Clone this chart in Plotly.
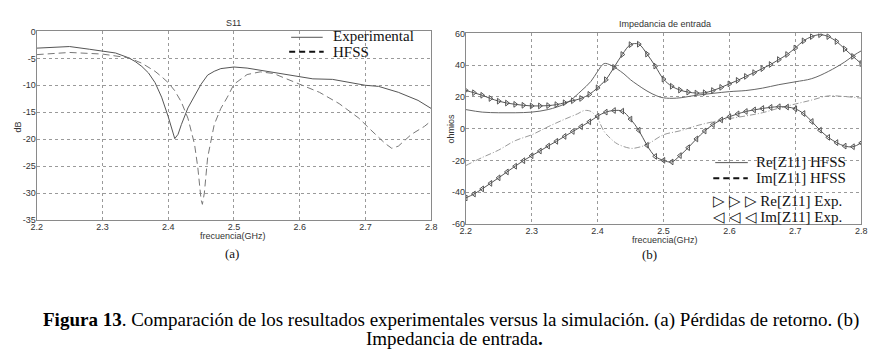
import plotly.graph_objects as go

# ---------------- S11 data (GHz, dB) ----------------
s11_exp_f = [2.2, 2.25, 2.28, 2.3, 2.32, 2.34, 2.35, 2.36, 2.37, 2.38, 2.39, 2.4, 2.405, 2.41,
             2.415, 2.42, 2.43, 2.44, 2.45, 2.46, 2.47, 2.48, 2.5, 2.52, 2.55, 2.6, 2.62, 2.65,
             2.68, 2.7, 2.72, 2.75, 2.78, 2.8]
s11_exp_db = [-3.1, -2.8, -3.3, -3.6, -4.0, -4.9, -5.6, -6.5, -7.7, -9.5, -12.2, -15.8, -17.9, -19.9,
              -19.1, -17.3, -14.2, -11.9, -9.8, -8.1, -7.4, -6.9, -6.6, -6.8, -7.4, -8.3, -8.8, -8.9,
              -9.5, -10.0, -10.2, -11.3, -12.8, -14.3]

s11_hfss_f = [2.2, 2.25, 2.3, 2.32, 2.34, 2.36, 2.38, 2.39, 2.4, 2.41, 2.42, 2.43, 2.44, 2.445,
              2.45, 2.452, 2.455, 2.46, 2.47, 2.48, 2.49, 2.5, 2.52, 2.54, 2.56, 2.58, 2.6, 2.63,
              2.66, 2.69, 2.71, 2.73, 2.74, 2.75, 2.77, 2.79, 2.8]
s11_hfss_db = [-4.3, -3.9, -4.2, -4.5, -4.9, -5.9, -7.4, -8.4, -9.5, -11.0, -13.1, -16.1, -20.9, -25.2,
               -31.2, -32.1, -30.0, -23.4, -17.3, -14.3, -12.2, -9.8, -8.0, -7.5, -7.8, -8.8, -9.8, -11.3,
               -13.4, -16.1, -18.5, -20.8, -21.7, -21.3, -19.1, -17.6, -16.6]

# ---------------- Impedance data (GHz, ohm) ----------------
re_hfss_f = [2.2, 2.225, 2.25, 2.275, 2.3, 2.325, 2.35, 2.36, 2.375, 2.39, 2.4, 2.41, 2.42, 2.43,
             2.44, 2.45, 2.46, 2.475, 2.49, 2.5, 2.52, 2.55, 2.6, 2.625, 2.65, 2.675, 2.7, 2.725,
             2.75, 2.775, 2.79, 2.8]
re_hfss = [12.0, 10.4, 10.0, 10.0, 10.4, 12.0, 15.5, 18.2, 23.7, 29.8, 36.0, 41.0, 40.0, 37.5,
           34.5, 30.8, 27.8, 23.7, 20.6, 19.4, 19.2, 21.0, 23.3, 24.0, 25.5, 27.7, 29.5, 31.5,
           36.0, 42.0, 46.5, 49.0]

im_hfss_f = [2.2, 2.225, 2.25, 2.275, 2.3, 2.325, 2.35, 2.37, 2.38, 2.39, 2.4, 2.41, 2.42, 2.43,
             2.45, 2.46, 2.475, 2.5, 2.525, 2.55, 2.575, 2.6, 2.625, 2.65, 2.675, 2.7, 2.725,
             2.75, 2.775, 2.8]
im_hfss = [-23.3, -18.2, -13.5, -7.6, -3.9, 1.2, 5.9, 9.4, 11.4, 10.8, 6.3, -1.8, -6.3, -9.6,
           -12.4, -12.0, -10.0, -3.9, -1.4, 1.8, 4.3, 6.3, 8.0, 10.0, 12.9, 15.5, 18.0,
           20.6, 20.2, 19.2]

# measured points every 0.0125 GHz from 2.2 to 2.8 (49 points)
exp_f = [round(2.2 + 0.0125 * i, 4) for i in range(49)]
re_exp = [24.1, 22.6, 21.0, 19.0, 17.3, 16.1, 15.3, 14.7, 14.3, 14.3, 14.5, 15.1, 16.3, 17.6,
          19.0, 21.6, 25.7, 30.8, 38.6, 46.7, 52.9, 53.2, 47.0, 39.4, 31.2, 26.7, 24.3, 23.0,
          22.4, 22.6, 24.0, 26.0, 28.2, 30.4, 32.9, 35.3, 37.8, 40.4, 43.5, 46.7, 50.8, 55.3,
          58.0, 59.2, 58.0, 54.9, 50.2, 45.5, 41.0]
im_exp = [-43.7, -41.2, -38.0, -34.5, -31.0, -27.3, -23.7, -20.2, -17.1, -14.1, -11.0, -8.0,
          -4.9, -1.8, 1.2, 4.3, 7.8, 10.4, 11.4, 11.0, 6.0, -1.0, -10.5, -17.5, -20.0, -21.0,
          -17.0, -12.0, -6.5, -1.5, 2.5, 5.5, 7.5, 9.3, 10.8, 11.8, 12.7, 13.4, 13.8, 13.6,
          12.5, 9.5, 4.5, -1.0, -5.5, -8.8, -11.0, -11.4, -9.0]

s11_ticks = [0, -5, -10, -15, -20, -25, -30, -35]
z_ticks = [60, 40, 20, 0, -20, -40, -60]
f_ticks = [2.2, 2.3, 2.4, 2.5, 2.6, 2.7, 2.8]

fig = go.Figure()

fig.add_trace(go.Scatter(x=s11_exp_f, y=s11_exp_db, mode="lines", line=dict(color="#555555", width=1),
                         xaxis="x", yaxis="y", showlegend=False))
fig.add_trace(go.Scatter(x=s11_hfss_f, y=s11_hfss_db, mode="lines",
                         line=dict(color="#777777", width=1, dash="7px,4px"),
                         xaxis="x", yaxis="y", showlegend=False))

fig.add_trace(go.Scatter(x=re_hfss_f, y=re_hfss, mode="lines", line=dict(color="#666666", width=1),
                         xaxis="x2", yaxis="y2", showlegend=False, line_shape="spline"))
fig.add_trace(go.Scatter(x=im_hfss_f, y=im_hfss, mode="lines",
                         line=dict(color="#999999", width=1, dash="6px,2px,1px,2px"),
                         xaxis="x2", yaxis="y2", showlegend=False, line_shape="spline"))
fig.add_trace(go.Scatter(x=exp_f, y=re_exp, mode="lines+markers", line=dict(color="#555555", width=1),
                         marker=dict(symbol="triangle-right-open", size=5, color="#555555",
                                     line=dict(width=1)),
                         xaxis="x2", yaxis="y2", showlegend=False, line_shape="spline"))
fig.add_trace(go.Scatter(x=exp_f, y=im_exp, mode="lines+markers", line=dict(color="#555555", width=1),
                         marker=dict(symbol="triangle-left-open", size=5, color="#555555",
                                     line=dict(width=1)),
                         xaxis="x2", yaxis="y2", showlegend=False, line_shape="spline"))

# The page body adds an 8px margin, so the figure is laid out in window pixels minus 8.
OFF = 8
W, H = 883 - OFF, 360 - OFF
def px(x):
    return (x - OFF) / W
def py(y):
    return 1 - (y - OFF) / H

axis_common = dict(showgrid=True, gridcolor="#9a9a9a", griddash="dot", gridwidth=1,
                   showline=True, linecolor="#8a8a8a", linewidth=1, mirror=True,
                   ticks="", zeroline=False,
                   tickfont=dict(family="Liberation Sans, Arial", size=9, color="#333333"))

fig.update_layout(
    width=W, height=H, margin=dict(l=0, r=0, t=0, b=0),
    paper_bgcolor="white", plot_bgcolor="white", showlegend=False,
    xaxis=dict(domain=[px(31), px(431)], range=[2.2, 2.8], tickvals=f_ticks,
               ticktext=[str(v) for v in f_ticks], anchor="y", ticklabelstandoff=-2, **axis_common),
    yaxis=dict(domain=[py(221), py(27)], range=[-35, 0], tickvals=s11_ticks,
               ticktext=[str(v) for v in s11_ticks], anchor="x", ticklabelstandoff=-2, **axis_common),
    xaxis2=dict(domain=[px(466), px(867)], range=[2.2, 2.8], tickvals=f_ticks,
                ticktext=[str(v) for v in f_ticks], anchor="y2", ticklabelstandoff=-2, **axis_common),
    yaxis2=dict(domain=[py(225), py(29)], range=[-60, 60], tickvals=z_ticks,
                ticktext=[str(v) for v in z_ticks], anchor="x2", ticklabelstandoff=-2, **axis_common),
)

small = dict(family="Liberation Sans, Arial", size=9, color="#333333")
serif = dict(family="Liberation Serif, Times New Roman", size=15, color="#111111")

ann = [
    dict(x=px(231), y=py(18), text="S11", font=small),
    dict(x=px(668), y=py(19), text="Impedancia de entrada", font=small),
    dict(x=px(230), y=py(238), text="frecuencia(GHz)", font=small),
    dict(x=px(668), y=py(242), text="frecuencia(GHz)", font=small),
    dict(x=px(12), y=py(125), text="dB", font=small, textangle=-90),
    dict(x=px(451), y=py(127), text="ohmios", font=small, textangle=-90),
    dict(x=px(229), y=py(256), text="(a)", font=dict(family="Liberation Serif", size=13, color="#111")),
    dict(x=px(652), y=py(257), text="(b)", font=dict(family="Liberation Serif", size=13, color="#111")),
    dict(x=px(451), y=py(324), text="<b>Figura 13</b>. Comparación de los resultados experimentales versus la simulación. (a) Pérdidas de retorno. (b)",
         font=dict(family="Liberation Serif", size=19, color="#000")),
    dict(x=px(455), y=py(343), text="Impedancia de entrada<b>.</b>",
         font=dict(family="Liberation Serif", size=19, color="#000")),
    # legend texts
    dict(x=px(329), y=py(32), text="Experimental", font=serif, xanchor="left"),
    dict(x=px(329), y=py(48), text="HFSS", font=serif, xanchor="left"),
    dict(x=px(758), y=py(161), text="Re[Z11] HFSS", font=serif, xanchor="left"),
    dict(x=px(758), y=py(178), text="Im[Z11] HFSS", font=serif, xanchor="left"),
    dict(x=px(715), y=py(201), text="\u25B7 \u25B7 \u25B7 Re[Z11] Exp.", font=serif, xanchor="left"),
    dict(x=px(715), y=py(218), text="\u25C1 \u25C1 \u25C1 Im[Z11] Exp.", font=serif, xanchor="left"),
]
for a in ann:
    a.setdefault("xanchor", "center")
    a.update(xref="paper", yref="paper", yanchor="middle", showarrow=False)
fig.update_layout(annotations=ann)

shapes = [
    dict(x0=px(289), x1=px(321), y0=py(33), y1=py(33), line=dict(color="#555", width=1)),
    dict(x0=px(287), x1=px(322), y0=py(48), y1=py(48), line=dict(color="#111", width=2, dash="6px,4px")),
    dict(x0=px(719), x1=px(752), y0=py(162), y1=py(162), line=dict(color="#555", width=1)),
    dict(x0=px(717), x1=px(752), y0=py(178), y1=py(178), line=dict(color="#111", width=2, dash="6px,4px")),
]
for s in shapes:
    s.update(type="line", xref="paper", yref="paper")
fig.update_layout(shapes=shapes)

fig.write_html("out.html")
